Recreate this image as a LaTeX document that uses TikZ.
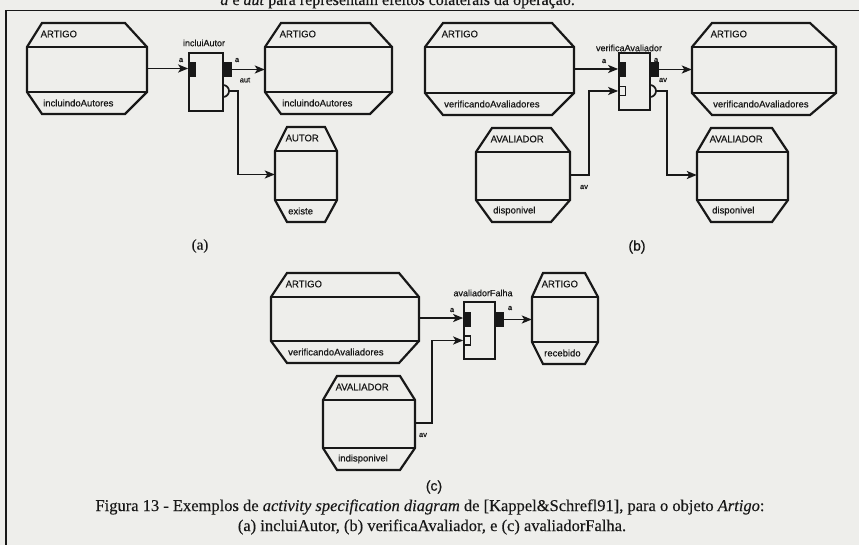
\documentclass[tikz,border=0pt]{standalone}
\usepackage{fontspec}
\setmainfont{Liberation Serif}
\newfontfamily\diagfont[FakeBold=0.6]{Liberation Sans}
\newfontfamily\capfont[FakeBold=0.3]{Liberation Serif}
\usetikzlibrary{arrows.meta,calc,fit}

\definecolor{paper}{RGB}{238,238,235}
\definecolor{ink}{RGB}{24,24,24}

\tikzset{
  objline/.style={draw=ink, line width=2.2pt, line join=miter},
  divline/.style={draw=ink, line width=1.8pt},
  objlabel/.style={font=\diagfont\fontsize{9.5}{10}\selectfont, inner sep=0pt, text=ink},
  oplabel/.style={font=\diagfont\fontsize{9}{10}\selectfont, inner sep=0pt, text=ink},
  portlabel/.style={font=\diagfont\fontsize{7.5}{8}\selectfont, inner sep=0pt, text=ink},
  opbox/.style={draw=ink, line width=1.7pt, inner sep=0pt},
  blackport/.style={fill=ink, draw=ink, line width=0.6pt, inner sep=0pt, minimum width=7pt, minimum height=14pt},
  hollowport/.style={draw=ink, line width=1.3pt, inner sep=0pt, minimum width=7pt, minimum height=9pt},
  flow/.style={draw=ink, line width=1.8pt, -{Stealth[length=10pt,width=8pt,inset=2.5pt]}},
  optline/.style={draw=ink, line width=1.7pt},
  sublabel/.style={font=\capfont\fontsize{15}{16}\selectfont, inner sep=0pt, text=ink},
  subsans/.style={font=\diagfont\fontsize{14}{16}\selectfont, inner sep=0pt, text=ink},
  caption/.style={font=\capfont\fontsize{16.5}{18}\selectfont, inner sep=0pt, text=ink},
}

% object state box: name, x1, y1, x2, y2, left chamfer, right chamfer, title, state
\newcommand\objbox[9]{%
  \path (#2,#3) coordinate (#1-a) (#4,#5) coordinate (#1-b);
  \node[fit=(#1-a)(#1-b), inner sep=0pt] (#1) {};
  \draw[objline] ({#2+#6},#3) -- ({#4-#7},#3) -- (#4,{#3+24}) -- (#4,{#5-22})
     -- ({#4-#7},#5) -- ({#2+#6},#5) -- (#2,{#5-22}) -- (#2,{#3+24}) -- cycle;
  \draw[divline] (#2,{#3+24}) -- (#4,{#3+24});
  \draw[divline] (#2,{#5-22}) -- (#4,{#5-22});
  \node[objlabel, anchor=west] (#1-title) at ({#2+#6-1.5},{#3+11}) {#8};
  \node[objlabel, anchor=west] (#1-state) at ({#2+#6+1},{#5-11}) {#9};
}

\begin{document}
\begin{tikzpicture}[x=1pt, y=-1pt]
  \useasboundingbox (0,0) rectangle (859,545);
  \clip (0,0) rectangle (859,545);
  \fill[paper] (0,0) rectangle (859,545);

  % running text of the page above the figure frame
  \node[anchor=base east, font=\capfont\fontsize{16}{18}\selectfont, inner sep=0pt, text=ink]
    (pagetext) at (575,5) {\textit{a} e \textit{aut} para representam efeitos colaterais da operação.};

  % figure frame
  \draw[ink, line width=1.8pt] (6,545) -- (6,10.5) -- (859,10.5);

  % ---------------- (a) incluiAutor ----------------
  \objbox{artA}{27}{23}{147}{114}{15}{22}{ARTIGO}{incluindoAutores}
  \objbox{artAo}{265}{23}{392}{114}{16}{22}{ARTIGO}{incluindoAutores}
  \objbox{autor}{275}{127}{337}{222}{12}{12}{AUTOR}{existe}

  \node[opbox, minimum width=34pt, minimum height=58pt] (opA) at (206,82) {};
  \node[oplabel] (opA-name) at (204,43) {incluiAutor};
  \node[blackport, anchor=west] (opA-in) at (opA.west |- 0,69.5) {};
  \node[blackport, anchor=west] (opA-out) at (opA.east |- 0,69.5) {};
  \draw[optline] (223,85) arc[start angle=-90, end angle=90, radius=6];
  \coordinate (opA-opt) at (229,91);

  \draw[flow] (artA.east) -- (artA.east -| opA-in.west);
  \draw[flow] (opA-out.east) -- (opA-out.east -| artAo.west);
  \draw[flow] (opA-opt) -- ++(9,0) |- (autor.west);
  \node[portlabel] (la1) at (181,60) {a};
  \node[portlabel] (la2) at (237,60) {a};
  \node[portlabel] (la3) at (245,80) {aut};
  \node[sublabel] (capA) at (200,246) {(a)};

  % ---------------- (b) verificaAvaliador ----------------
  \objbox{artB}{425}{23}{574}{115}{18}{22}{ARTIGO}{verificandoAvaliadores}
  \objbox{avB}{476}{128}{570}{222}{16}{19}{AVALIADOR}{disponivel}
  \objbox{artBo}{692}{23}{836}{115}{20}{26}{ARTIGO}{verificandoAvaliadores}
  \objbox{avBo}{697}{128}{788}{222}{14}{16}{AVALIADOR}{disponivel}

  \node[opbox, minimum width=31pt, minimum height=57pt] (opB) at (634.5,81.5) {};
  \node[oplabel] (opB-name) at (629,48) {verificaAvaliador};
  \node[blackport, anchor=west] (opB-in) at (opB.west |- 0,69.5) {};
  \node[blackport, anchor=west] (opB-out) at (opB.east |- 0,69.5) {};
  \node[hollowport, anchor=west] (opB-hol) at (opB.west |- 0,91) {};
  \draw[optline] (650,85) arc[start angle=-90, end angle=90, radius=6];
  \coordinate (opB-opt) at (656,91);

  \draw[flow] (artB.east) -- (artB.east -| opB-in.west);
  \draw[flow] (avB.east) -- ++(19,0) |- (opB-hol.west);
  \draw[flow] (opB-out.east) -- (opB-out.east -| artBo.west);
  \draw[flow] (opB-opt) -- ++(11,0) |- (avBo.west);
  \node[portlabel] (lb1) at (604,61) {a};
  \node[portlabel] (lb2) at (656,60) {a};
  \node[portlabel] (lb3) at (663,80) {av};
  \node[portlabel] (lb4) at (584,187) {av};
  \node[subsans] (capB) at (637,247) {(b)};

  % ---------------- (c) avaliadorFalha ----------------
  \objbox{artC}{271}{273}{419}{363}{16}{20}{ARTIGO}{verificandoAvaliadores}
  \objbox{artCo}{532}{273}{598}{364}{11}{13}{ARTIGO}{recebido}
  \objbox{avC}{323}{376}{415}{470}{14}{15}{AVALIADOR}{indisponivel}

  \node[opbox, minimum width=31pt, minimum height=57pt] (opC) at (479.5,330.5) {};
  \node[oplabel] (opC-name) at (483,293) {avaliadorFalha};
  \node[blackport, anchor=west] (opC-in) at (opC.west |- 0,319.5) {};
  \node[blackport, anchor=west] (opC-out) at (opC.east |- 0,319.5) {};
  \node[hollowport, anchor=west] (opC-hol) at (opC.west |- 0,340.5) {};

  \draw[flow] (artC.east) -- (artC.east -| opC-in.west);
  \draw[flow] (avC.east) -- ++(17,0) |- (opC-hol.west);
  \draw[flow] (opC-out.east) -- (opC-out.east -| artCo.west);
  \node[portlabel] (lc1) at (452,310) {a};
  \node[portlabel] (lc2) at (510,308) {a};
  \node[portlabel] (lc3) at (423,435) {av};
  \node[subsans] (capC) at (434,487) {(c)};

  % caption
  \node[caption] (cap1) at (430,507)
    {Figura 13 - Exemplos de \textit{activity specification diagram} de [Kappel\&Schrefl91], para o objeto \textit{Artigo}:};
  \node[caption] (cap2) at (432,527)
    {(a) incluiAutor, (b) verificaAvaliador, e (c) avaliadorFalha.};
\end{tikzpicture}
\end{document}
